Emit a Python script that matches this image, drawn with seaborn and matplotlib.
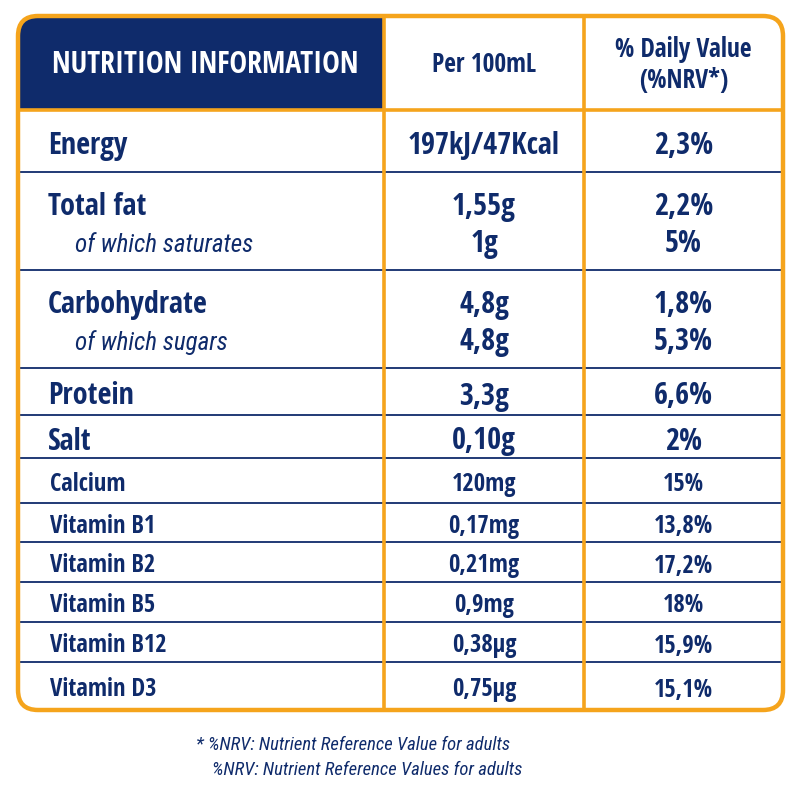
import matplotlib
matplotlib.use("Agg")
import matplotlib.pyplot as plt
import seaborn as sns
from matplotlib import font_manager as fm
from matplotlib import ft2font
from matplotlib.patches import FancyBboxPatch, Rectangle

# ---------------- data ----------------
nutrients = ["Energy", "Total fat", "Carbohydrate", "Protein", "Salt", "Calcium",
             "Vitamin B1", "Vitamin B2", "Vitamin B5", "Vitamin B12", "Vitamin D3"]
per_100ml = ["197kJ/47Kcal", "1,55g", "4,8g", "3,3g", "0,10g", "120mg",
             "0,17mg", "0,21mg", "0,9mg", "0,38µg", "0,75µg"]
nrv = ["2,3%", "2,2%", "1,8%", "6,6%", "2%", "15%",
       "13,8%", "17,2%", "18%", "15,9%", "15,1%"]
sub_labels = ["", "of which saturates", "of which sugars", "", "", "",
              "", "", "", "", ""]
sub_per_100ml = ["", "1g", "4,8g", "", "", "", "", "", "", "", ""]
sub_nrv = ["", "5%", "5,3%", "", "", "", "", "", "", "", ""]
major = [True, True, True, True, True, False, False, False, False, False, False]

header_title = "NUTRITION INFORMATION"
header_col2 = "Per 100mL"
header_col3 = "% Daily Value\n(%NRV*)"
footnotes = ["* %NRV: Nutrient Reference Value for adults",
             "%NRV: Nutrient Reference Values for adults"]

# ---------------- fonts ----------------
sns.set_theme(style="white")
plt.rcParams["font.family"] = ["DejaVu Sans"]

fig = plt.figure(figsize=(8, 8), dpi=100)
ax = fig.add_axes([0, 0, 1, 1])
ax.set_xlim(0, 800)
ax.set_ylim(800, 0)
ax.axis("off")
renderer = fig.canvas.get_renderer()

BOLD_CHARS = set("".join(nutrients + per_100ml + nrv + sub_per_100ml + sub_nrv
                         + [header_title, header_col2, header_col3]).replace("\n", "").replace(" ", ""))
ITAL_CHARS = set("".join(sub_labels + footnotes).replace(" ", ""))
KNOWN = ("noto sans", "open sans", "roboto", "liberation sans", "lato", "inter",
         "dejavu sans")


def _wt(e):
    w = e.weight
    if isinstance(w, str):
        return {"bold": 700, "semibold": 600, "demibold": 600, "medium": 500,
                "normal": 400, "regular": 400, "heavy": 800, "black": 900,
                "light": 300}.get(w, 400)
    return w


def width_of(s, fp, size=20):
    t = fig.text(0, 0, s, fontproperties=fp, fontsize=size)
    w = t.get_window_extent(renderer).width
    t.remove()
    return w


def covers(fname, chars):
    try:
        cmap = ft2font.FT2Font(fname).get_charmap()
    except Exception:
        return False
    return all(ord(c) in cmap for c in chars)


def is_condensed(e):
    s = str(e.stretch).lower()
    n = e.name.lower()
    f = e.fname.lower()
    return ("condensed" in s or "narrow" in s or "condensed" in n or "narrow" in n
            or "condensed" in f or "narrow" in f)


def pick(bold, italic, probe, chars):
    best, bestkey = None, None
    seen = set()
    for e in fm.fontManager.ttflist:
        if e.fname in seen or not e.fname.lower().endswith((".ttf", ".otf")):
            continue
        seen.add(e.fname)
        if not is_condensed(e):
            continue
        n = e.name.lower()
        if not n.startswith(KNOWN):
            continue
        it = e.style in ("italic", "oblique")
        if it != italic:
            continue
        w = _wt(e)
        if bold and not (600 <= w <= 800):
            continue
        if not bold and not (400 <= w <= 500):
            continue
        if not covers(e.fname, chars):
            continue
        try:
            fp = fm.FontProperties(fname=e.fname)
            ww = width_of(probe, fp)
        except Exception:
            continue
        if ww <= 0:
            continue
        key = ("dejavu" in n, ww, abs(w - (700 if bold else 500)))
        if bestkey is None or key < bestkey:
            best, bestkey = fp, key
    if best is None:
        best = fm.FontProperties(family="DejaVu Sans", stretch="condensed",
                                 weight="bold" if bold else "normal",
                                 style="italic" if italic else "normal")
    return best


FP_B = pick(True, False, "Carbohydrate 197kJ", BOLD_CHARS)
FP_I = pick(False, True, "of which saturates", ITAL_CHARS)

NAVY = "#0f2b6b"
ORANGE = "#f5a41c"

# layout (pixel space)
L, R, T, B = 18, 783, 16, 710
C1, C2 = 384, 584
HEAD_B = 110
row_heights = [62, 98, 98, 47, 43, 45, 39, 40, 40, 40, 48]


def fit(s, target_px, max_pt, fp):
    return min(max_pt, 20 * target_px / width_of(s, fp))


fs_main = fit("Carbohydrate", 160, 24, FP_B)
fs_small = fit("Vitamin B12", 116, 21, FP_B)
fs_title = fit(header_title, 306, 22, FP_B)
fs_head = fit("% Daily Value", 137, 19, FP_B)
fs_sub = fit("of which saturates", 178, 19, FP_I)
fs_foot = fit(footnotes[0], 314, 14, FP_I)

outer = FancyBboxPatch((L, T), R - L, B - T,
                       boxstyle="round,pad=0,rounding_size=20",
                       facecolor="white", edgecolor="none", zorder=1)
ax.add_patch(outer)

head = Rectangle((L, T), C1 - L, HEAD_B - T, facecolor=NAVY, edgecolor="none", zorder=2)
ax.add_patch(head)
head.set_clip_path(outer)

# header texts
ax.text((L + C1) / 2 + 4, 65, header_title, color="white", fontproperties=FP_B,
        fontsize=fs_title, ha="center", va="center", zorder=5)
ax.text((C1 + C2) / 2, 65, header_col2, color=NAVY, fontproperties=FP_B,
        fontsize=fs_head, ha="center", va="center", zorder=5)
ax.text((C2 + R) / 2, 65, header_col3, color=NAVY, fontproperties=FP_B,
        fontsize=fs_head, ha="center", va="center", zorder=5, linespacing=1.15)

# rows
x_val = (C1 + C2) / 2
x_pct = (C2 + R) / 2
top = HEAD_B
for i, name in enumerate(nutrients):
    h = row_heights[i]
    fs = fs_main if major[i] else fs_small
    xl = 48 if major[i] else 50
    if sub_labels[i]:
        yb = top + 43
        ys = top + 80
    else:
        yb = top + h / 2 + (13 if major[i] else 10.5)
    ax.text(xl, yb, name, color=NAVY, fontproperties=FP_B, fontsize=fs,
            ha="left", va="baseline", zorder=5)
    ax.text(x_val, yb, per_100ml[i], color=NAVY, fontproperties=FP_B, fontsize=fs,
            ha="center", va="baseline", zorder=5)
    ax.text(x_pct, yb, nrv[i], color=NAVY, fontproperties=FP_B, fontsize=fs,
            ha="center", va="baseline", zorder=5)
    if sub_labels[i]:
        ax.text(75, ys, sub_labels[i], color=NAVY, fontproperties=FP_I, fontsize=fs_sub,
                ha="left", va="baseline", zorder=5)
        ax.text(x_val, ys, sub_per_100ml[i], color=NAVY, fontproperties=FP_B, fontsize=fs,
                ha="center", va="baseline", zorder=5)
        ax.text(x_pct, ys, sub_nrv[i], color=NAVY, fontproperties=FP_B, fontsize=fs,
                ha="center", va="baseline", zorder=5)
    top += h
    if i < len(nutrients) - 1:
        ax.plot([L, R], [top, top], color=NAVY, lw=1.3, zorder=3,
                solid_capstyle="butt")

# orange grid
ax.plot([L, R], [HEAD_B, HEAD_B], color=ORANGE, lw=2.6, zorder=4, solid_capstyle="butt")
for xc in (C1, C2):
    ax.plot([xc, xc], [T, B], color=ORANGE, lw=2.6, zorder=4, solid_capstyle="butt")
border = FancyBboxPatch((L, T), R - L, B - T,
                        boxstyle="round,pad=0,rounding_size=20",
                        facecolor="none", edgecolor=ORANGE, lw=3.2, zorder=6)
ax.add_patch(border)

# footnotes
ax.text(196, 750, footnotes[0], color=NAVY, fontproperties=FP_I, fontsize=fs_foot,
        ha="left", va="baseline")
ax.text(212, 775, footnotes[1], color=NAVY, fontproperties=FP_I, fontsize=fs_foot,
        ha="left", va="baseline")

fig.savefig("out.png", dpi=100, facecolor="white")
